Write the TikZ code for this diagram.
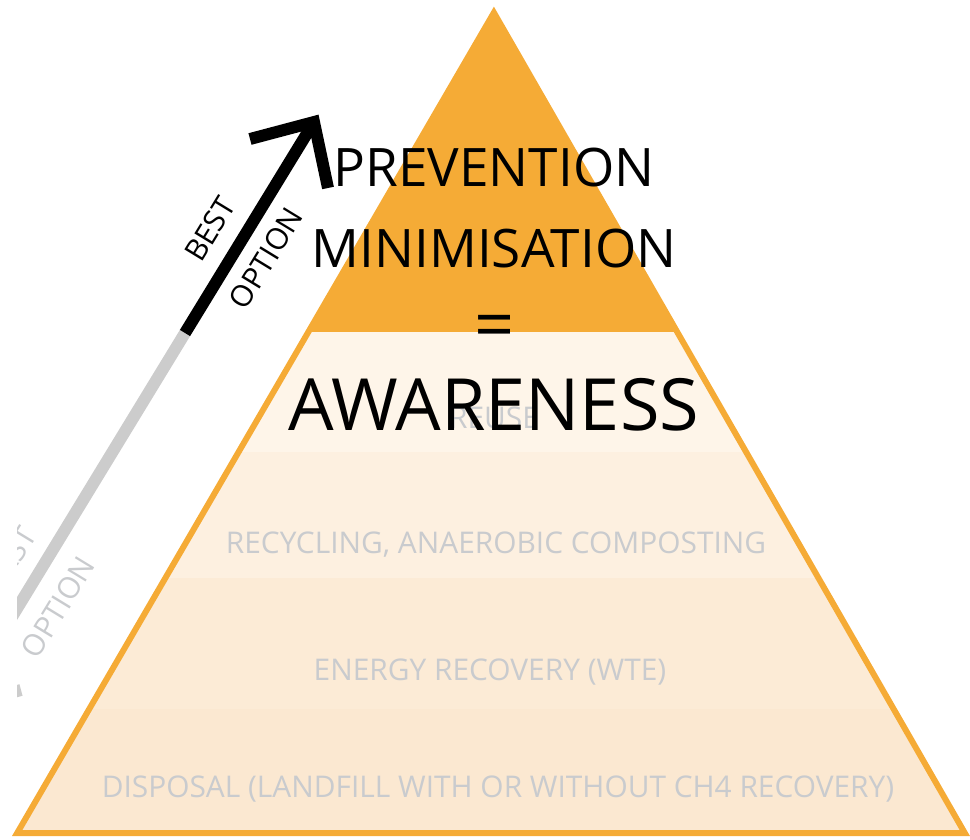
\documentclass[tikz,border=0pt]{standalone}
\usepackage{fontspec}
\setmainfont{Open Sans}
\definecolor{naranja}{HTML}{F5AB36}
\definecolor{capa1}{HTML}{FEF5E9}
\definecolor{capa2}{HTML}{FDF0E0}
\definecolor{capa3}{HTML}{FCEBD6}
\definecolor{capa4}{HTML}{FBE8D1}
\definecolor{grisTexto}{HTML}{C9CBCE}
\definecolor{grisFlecha}{HTML}{CCCCCC}

\begin{document}
\begin{tikzpicture}[x=0.02cm, y=-0.02cm,
    nivel/.style={text=grisTexto, font=\fontsize{17}{19}\selectfont, anchor=base, inner sep=0pt},
    titulo/.style={font=\fontsize{30.2}{33}\selectfont, anchor=base, inner sep=0pt},
    etiqueta/.style={font=\fontsize{17}{19}\selectfont, rotate=58.6, inner sep=0pt},
    flecha/.style={line width=6.8pt, line join=miter}]
    \useasboundingbox (0,0) rectangle (970,839);

    % Capas de la piramide
    \begin{scope}
        \clip (17.2,833) -- (493.9,12.6) -- (964.8,833) -- cycle;
        \fill[naranja] (0,0)   rectangle (970,332);
        \fill[capa1]   (0,332) rectangle (970,452);
        \fill[capa2]   (0,452) rectangle (970,578);
        \fill[capa3]   (0,578) rectangle (970,709);
        \fill[capa4]   (0,709) rectangle (970,840);
    \end{scope}
    \draw[naranja, line width=3.4pt, line join=miter]
        (17.2,833) -- (493.9,12.6) -- (964.8,833) -- cycle;

    % Niveles
    \node[nivel] (reuse)    at (494,428) {REUSE};
    \node[nivel] (recycle)  at (496,553) {RECYCLING, ANAEROBIC COMPOSTING};
    \node[nivel] (energy)   at (490,680) {ENERGY RECOVERY (WTE)};
    \node[nivel] (disposal) at (498,797) {DISPOSAL (LANDFILL WITH OR WITHOUT CH4 RECOVERY)};

    % Flecha: mejor / peor opcion
    \begin{scope}
        \clip (17,0) rectangle (970,839);
        \coordinate (split) at (185,333);
        \coordinate (tip)   at (314,122);
        \coordinate (tail)  at (-43,707);

        \draw[flecha, grisFlecha] (split) -- (tail);
        \draw[flecha, grisFlecha] ([shift={(64,-17)}]tail) -- (tail) -- ([shift={(-14,-66)}]tail);
        \draw[flecha, black] (split) -- (tip);
        \draw[flecha, black] ([shift={(-64,17)}]tip) -- (tip) -- ([shift={(14,66)}]tip);

        \node[etiqueta] (best)      at (210,229) {BEST};
        \node[etiqueta] (bestopt)   at (266,258) {OPTION};
        \node[etiqueta, text=grisTexto] (worst)    at (2,573)  {WORST};
        \node[etiqueta, text=grisTexto] (worstopt) at (58,607) {OPTION};
    \end{scope}

    % Texto principal
    \node[titulo] (prevention) at (494,186) {PREVENTION};
    \node[titulo] (minim)      at (494,267) {MINIMISATION};
    \node[titulo, anchor=center, font=\fontsize{40}{42}\selectfont] (equal) at (495,332) {=};
    \node[titulo, font=\fontsize{41}{44}\selectfont] (awareness) at (494,430) {AWARENESS};
\end{tikzpicture}
\end{document}
